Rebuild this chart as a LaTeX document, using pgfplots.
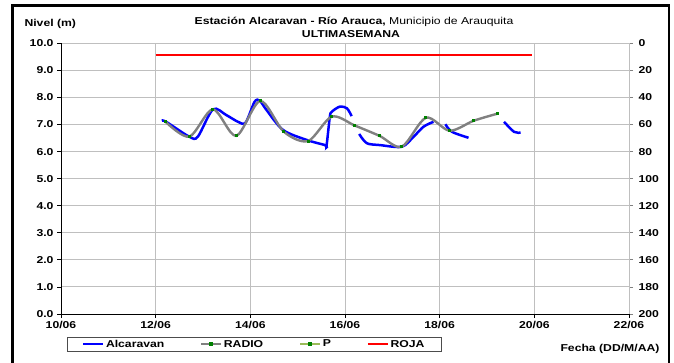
\documentclass[border=0pt]{standalone}
\usepackage{fontspec}
\setmainfont{Liberation Sans}[FakeStretch=1.22]
\usepackage{pgfplots}
\pgfplotsset{compat=1.18}

\definecolor{gridgray}{RGB}{191,191,191}
\definecolor{radiogray}{RGB}{128,128,128}
\definecolor{markgreen}{RGB}{0,128,0}
\definecolor{pgreen}{RGB}{155,187,89}
\definecolor{roja}{RGB}{255,0,0}
\definecolor{alcblue}{RGB}{0,0,255}
\newcommand\chartfont{\fontsize{10}{12}\selectfont\bfseries}

\begin{document}
\begin{tikzpicture}
% eje derecho (0 arriba, 200 abajo)
\begin{axis}[
  at={(61pt,48pt)}, anchor=south west, scale only axis,
  width=568pt, height=270.7pt,
  xmin=10, xmax=22, ymin=0, ymax=200, y dir=reverse,
  hide x axis, axis y line*=right,
  axis line style={-, radiogray, line width=0.8pt},
  ytick={0,20,...,200},
  tick align=outside, major tick length=4pt,
  tick style={radiogray, line width=0.8pt},
  /pgf/number format/assume math mode=true,
  yticklabel style={font=\chartfont, xshift=2pt},
]
\end{axis}
\begin{axis}[
  at={(61pt,48pt)}, anchor=south west, scale only axis,
  width=568pt, height=270.7pt,
  xmin=10, xmax=22, ymin=0, ymax=10,
  axis x line*=bottom, axis y line*=left,
  axis line style={-, black, line width=0.8pt},
  grid=major, grid style={draw=gridgray, line width=1pt},
  xtick={10,12,...,22},
  xticklabels={10/06,12/06,14/06,16/06,18/06,20/06,22/06},
  ytick={0,1,...,10},
  yticklabel style={/pgf/number format/.cd, fixed, fixed zerofill, precision=1},
  tick align=outside, major tick length=4pt,
  tick style={black, line width=0.8pt},
  /pgf/number format/assume math mode=true,
  ticklabel style={font=\chartfont},
  legend columns=4,
  legend style={at={(0,0)}, anchor=north west, xshift=6pt, yshift=-23pt,
    draw=black!70, line width=0.8pt, font=\chartfont,
    inner xsep=15pt, inner ysep=0.5pt,
    /tikz/every even column/.style={column sep=34pt}},
  legend image code/.code={%
    \draw[mark repeat=2, mark phase=2, #1] plot coordinates {(0pt,0pt) (10pt,0pt) (20pt,0pt)};},
]
% ROJA
\addplot[color=roja, line width=2pt, mark=none, forget plot] table {
x y
12.0 9.55
19.94 9.55
};
% Alcaravan
\addplot[draw=alcblue, line width=2.5pt, smooth, forget plot] coordinates {
  (12.13,7.14) (12.22,7.10) (12.71,6.55) (12.89,6.55) (13.21,7.56) (13.49,7.35)
  (13.74,7.10) (13.90,7.07) (14.09,7.84) (14.20,7.88) (14.34,7.54) (14.69,6.80)
  (15.19,6.43) (15.58,6.24) (15.61,6.22) (15.68,7.29) (15.72,7.47) (15.89,7.66)
  (16.04,7.60) (16.14,7.31)};
\addplot[draw=alcblue, line width=2.5pt, smooth, forget plot] coordinates {
  (16.30,6.65) (16.46,6.31) (16.74,6.24) (17.20,6.18) (17.45,6.55) (17.66,6.92) (17.87,7.10)};
\addplot[draw=alcblue, line width=2.5pt, smooth, forget plot] coordinates {
  (18.12,7.01) (18.26,6.73) (18.61,6.51)};
\addplot[draw=alcblue, line width=2.5pt, smooth, forget plot] coordinates {
  (19.36,7.10) (19.57,6.73) (19.71,6.70)};
% RADIO
\addplot[draw=radiogray, line width=2.4pt, smooth, mark=square*, mark size=1pt,
  mark options={draw=markgreen, fill=markgreen, line width=0pt}, forget plot] coordinates {
  (12.21,7.10) (12.71,6.55) (13.21,7.56) (13.70,6.58) (14.21,7.87) (14.71,6.73)
  (15.22,6.39) (15.72,7.29) (16.21,6.96) (16.73,6.58) (17.20,6.18) (17.71,7.25)
  (18.21,6.77) (18.72,7.14) (19.22,7.40)};

\addlegendimage{draw=alcblue, line width=1.6pt}
\addlegendentry{Alcaravan}
\addlegendimage{draw=radiogray, line width=1.6pt, mark=square*, mark size=1pt, mark options={draw=markgreen, fill=markgreen}}
\addlegendentry{RADIO}
\addlegendimage{draw=pgreen, line width=1.6pt, mark=square*, mark size=1pt, mark options={draw=markgreen, fill=markgreen}}
\addlegendentry{P}
\addlegendimage{draw=roja, line width=1.6pt}
\addlegendentry{ROJA}
\end{axis}

\node[anchor=base, font=\fontsize{10}{12}\selectfont] at (354pt,337pt)
  {\textbf{Estación Alcaravan - Río Arauca,} Municipio de Arauquita};
\node[anchor=base, font=\chartfont] at (351pt,324pt) {ULTIMASEMANA};
\node[anchor=base west, font=\chartfont] at (21pt,335.5pt) {Nivel (m)};
\node[anchor=base east, font=\chartfont] at (663pt,11pt) {Fecha (DD/M/AA)};

\draw[line width=2.5pt] (12.5pt,-2pt) -- (12.5pt,356.5pt) -- (669pt,356.5pt) -- (669pt,-2pt);

\pgfresetboundingbox
\useasboundingbox (0pt,0pt) rectangle (674pt,362pt);
\end{tikzpicture}
\end{document}
